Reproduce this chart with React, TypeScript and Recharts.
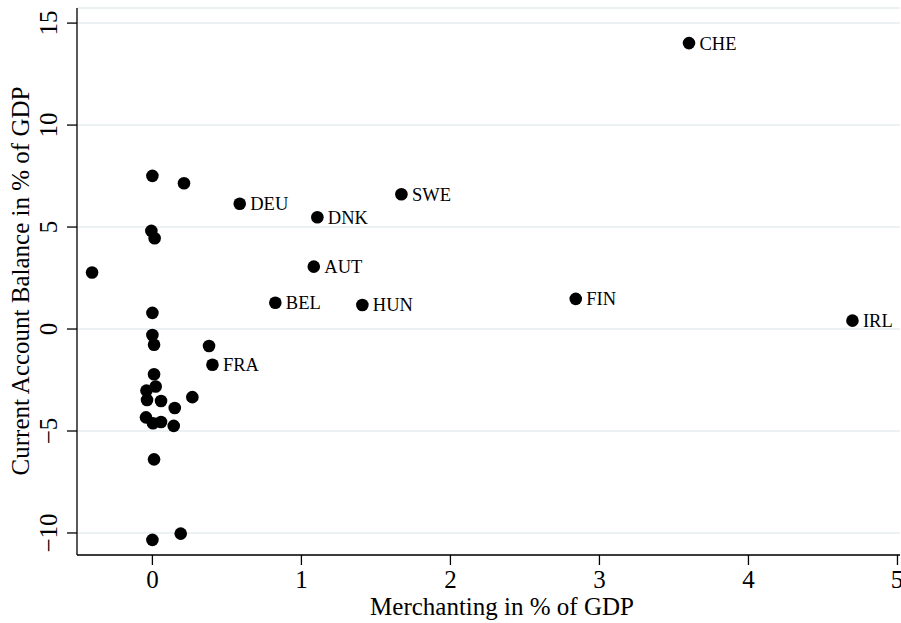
import React from "react";
import { ScatterChart, Scatter, XAxis, YAxis, CartesianGrid, Label } from "recharts";

const countries = ["CHE", "DEU", "SWE", "DNK", "AUT", "BEL", "HUN", "FIN", "IRL", "FRA",
  "", "", "", "", "", "", "", "", "", "", "", "", "", "", "", "", "", "", "", "", "", "", ""];
const merchanting = [3.601, 0.586, 1.671, 1.107, 1.083, 0.825, 1.409, 2.841, 4.698, 0.403,
  -0.405, 0.0, 0.212, -0.007, 0.015, 0.0, 0.0, 0.011, 0.38, 0.011, 0.022, -0.04, -0.036, 0.058,
  0.268, 0.15, -0.043, 0.004, 0.058, 0.143, 0.011, 0.19, 0.0];
const currentAccount = [14.02, 6.14, 6.61, 5.48, 3.06, 1.29, 1.18, 1.48, 0.41, -1.75,
  2.77, 7.51, 7.15, 4.81, 4.45, 0.79, -0.29, -0.77, -0.83, -2.22, -2.82, -3.02, -3.48, -3.53,
  -3.34, -3.87, -4.33, -4.62, -4.56, -4.75, -6.39, -10.03, -10.34];

const xTicks = [0, 1, 2, 3, 4, 5];
const yTicks = [-10, -5, 0, 5, 10, 15];

const data = merchanting.map((x, i) => ({ x, y: currentAccount[i], label: countries[i] }));

const FONT = "'Liberation Serif', 'Times New Roman', serif";

const XTick = (props: any) => {
  const { x, y, payload } = props;
  return (
    <text x={x} y={y + 21} textAnchor="middle" fontFamily={FONT} fontSize={25} fill="#000">
      {payload.value}
    </text>
  );
};

const YTick = (props: any) => {
  const { x, y, payload } = props;
  const v = payload.value < 0 ? "\u2212" + Math.abs(payload.value) : String(payload.value);
  return (
    <text transform={`translate(${x - 8},${y}) rotate(-90)`} textAnchor="middle" fontFamily={FONT} fontSize={25} fill="#000">
      {v}
    </text>
  );
};

const Dot = (props: any) => {
  const { cx, cy, payload } = props;
  return (
    <g>
      <circle cx={cx} cy={cy} r={6.3} fill="#000" />
      {payload.label ? (
        <text x={cx + 10.5} y={cy + 6.5} fontFamily={FONT} fontSize={18.5} fill="#000">
          {payload.label}
        </text>
      ) : null}
    </g>
  );
};

export default function App() {
  return (
    <div style={{ position: "absolute", left: 0, top: 0, background: "#fff" }}>
      <ScatterChart width={901} height={623} margin={{ top: 8, right: 1, left: 0, bottom: 0 }}>
        <CartesianGrid horizontal vertical={false} stroke="#e6eef0" strokeWidth={1.5} />
        <XAxis
          type="number"
          dataKey="x"
          domain={[-0.506, 5.017]}
          ticks={xTicks}
          height={68}
          tickSize={10}
          tick={<XTick />}
          axisLine={{ stroke: "#000", strokeWidth: 1.3 }}
          tickLine={{ stroke: "#000", strokeWidth: 1.3 }}
          allowDataOverflow
        >
          <Label
            content={() => (
              <text x={502} y={615} textAnchor="middle" fontFamily={FONT} fontSize={25} fill="#000">
                Merchanting in % of GDP
              </text>
            )}
          />
        </XAxis>
        <YAxis
          type="number"
          dataKey="y"
          domain={[-11.08, 15.74]}
          ticks={yTicks}
          width={77}
          tickSize={10}
          tick={<YTick />}
          axisLine={{ stroke: "#000", strokeWidth: 1.3 }}
          tickLine={{ stroke: "#000", strokeWidth: 1.3 }}
          allowDataOverflow
        >
          <Label
            content={() => (
              <text transform="translate(28.5,281) rotate(-90)" textAnchor="middle" fontFamily={FONT} fontSize={25} fill="#000">
                Current Account Balance in % of GDP
              </text>
            )}
          />
        </YAxis>
        <Scatter data={data} fill="#000" shape={<Dot />} isAnimationActive={false} />
      </ScatterChart>
    </div>
  );
}
